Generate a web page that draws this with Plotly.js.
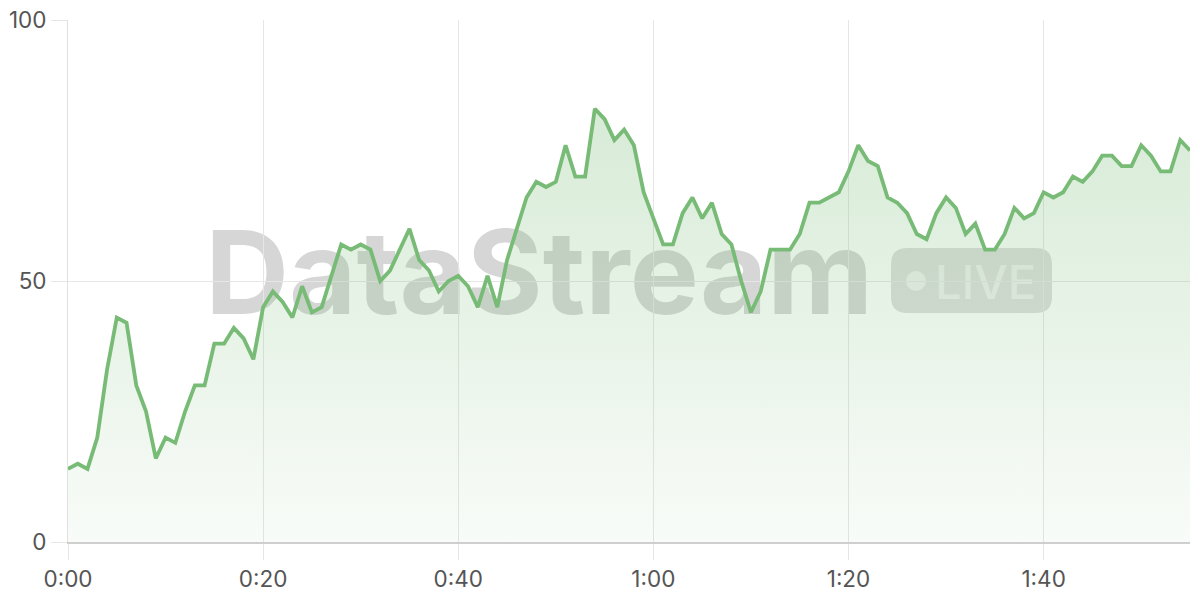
<!DOCTYPE html>
<html>
<head>
<meta charset="utf-8">
<script src="https://cdn.plot.ly/plotly-3.0.1.min.js"></script>
<style>
  html, body { margin: 0; padding: 0; background: #ffffff; }
  #chart { width: 1200px; height: 600px; }
</style>
</head>
<body>
<div id="chart"></div>
<script>
// elapsed seconds
const seconds = [];
for (let s = 0; s <= 115; s++) seconds.push(s);

// stream values (one per second)
const values = [
  14, 15, 14, 20, 33, 43, 42, 30, 25, 16,
  20, 19, 25, 30, 30, 38, 38, 41, 39, 35,
  45, 48, 46, 43, 49, 44, 45, 51, 57, 56,
  57, 56, 50, 52, 56, 60, 54, 52, 48, 50,
  51, 49, 45, 51, 45, 54, 60, 66, 69, 68,
  69, 76, 70, 70, 83, 81, 77, 79, 76, 67,
  62, 57, 57, 63, 66, 62, 65, 59, 57, 50,
  44, 48, 56, 56, 56, 59, 65, 65, 66, 67,
  71, 76, 73, 72, 66, 65, 63, 59, 58, 63,
  66, 64, 59, 61, 56, 56, 59, 64, 62, 63,
  67, 66, 67, 70, 69, 71, 74, 74, 72, 72,
  76, 74, 71, 71, 77, 75
];

const xTickVals = [0, 20, 40, 60, 80, 100];
const xTickText = ['0:00', '0:20', '0:40', '1:00', '1:20', '1:40'];
const yTickVals = [0, 50, 100];

const watermarkText = 'DataStream';
const liveText = 'LIVE';

const trace = {
  x: seconds,
  y: values,
  type: 'scatter',
  mode: 'lines',
  line: { color: '#78bb76', width: 3.8 },
  fill: 'tozeroy',
  fillgradient: {
    type: 'vertical',
    start: 0,
    stop: 85,
    colorscale: [
      [0, 'rgba(120,187,118,0.05)'],
      [1, 'rgba(120,187,118,0.30)']
    ]
  },
  hoverinfo: 'skip'
};

const font = 'Inter, "Open Sans", "DejaVu Sans", sans-serif';

const layout = {
  width: 1200,
  height: 600,
  margin: { l: 68, r: 10, t: 20, b: 58 },
  paper_bgcolor: '#ffffff',
  plot_bgcolor: '#ffffff',
  showlegend: false,
  font: { family: font, color: '#555555', size: 22 },
  xaxis: {
    range: [0, 115],
    tickvals: xTickVals,
    ticktext: xTickText,
    showgrid: true,
    gridcolor: '#e6e6e6',
    gridwidth: 1,
    zeroline: false,
    showline: true,
    linecolor: '#cfcfcf',
    linewidth: 1.5,
    ticks: 'outside',
    ticklen: 16,
    tickcolor: '#e6e6e6',
    tickwidth: 1,
    tickfont: { family: font, size: 22.5, color: '#555555' },
    fixedrange: true
  },
  yaxis: {
    range: [0, 100],
    tickvals: yTickVals,
    showgrid: true,
    gridcolor: '#e6e6e6',
    gridwidth: 1,
    zeroline: false,
    showline: true,
    linecolor: '#e0e0e0',
    linewidth: 1,
    ticks: 'outside',
    ticklen: 16,
    tickcolor: '#e6e6e6',
    tickwidth: 1,
    tickfont: { family: font, size: 22.5, color: '#555555' },
    fixedrange: true
  },
  shapes: [
    {
      type: 'rect', xref: 'paper', yref: 'paper', layer: 'below',
      x0: 0.12, x1: 0.72, y0: 0.385, y1: 0.665,
      line: { width: 0 }, fillcolor: 'rgba(0,0,0,0)',
      label: {
        text: watermarkText,
        textposition: 'middle center',
        font: { family: font, size: 116, weight: 700, color: 'rgba(0,0,0,0.16)' }
      }
    },
    {
      type: 'path', xref: 'paper', yref: 'paper', layer: 'below',
      path: (function () {
        // rounded pill from px 891..1052 horizontally, 248..313 vertically
        const L = 68, W = 1122, T = 20, H = 522;
        const px = p => (p - L) / W;
        const py = p => 1 - (p - T) / H;
        const x0 = 891, x1 = 1052, y0 = 248, y1 = 313, r = 16;
        return 'M ' + px(x0 + r) + ',' + py(y0) +
          ' L ' + px(x1 - r) + ',' + py(y0) +
          ' Q ' + px(x1) + ',' + py(y0) + ' ' + px(x1) + ',' + py(y0 + r) +
          ' L ' + px(x1) + ',' + py(y1 - r) +
          ' Q ' + px(x1) + ',' + py(y1) + ' ' + px(x1 - r) + ',' + py(y1) +
          ' L ' + px(x0 + r) + ',' + py(y1) +
          ' Q ' + px(x0) + ',' + py(y1) + ' ' + px(x0) + ',' + py(y1 - r) +
          ' L ' + px(x0) + ',' + py(y0 + r) +
          ' Q ' + px(x0) + ',' + py(y0) + ' ' + px(x0 + r) + ',' + py(y0) + ' Z';
      })(),
      line: { width: 0 }, fillcolor: 'rgba(0,0,0,0.13)'
    },
    {
      type: 'circle', xref: 'paper', yref: 'paper', layer: 'below',
      x0: (906 - 68) / 1122, x1: (926 - 68) / 1122,
      y0: 1 - (291 - 20) / 522, y1: 1 - (271 - 20) / 522,
      line: { width: 0 }, fillcolor: 'rgba(255,255,255,0.55)'
    },
    {
      type: 'rect', xref: 'paper', yref: 'paper', layer: 'below',
      x0: (935 - 68) / 1122, x1: (1036 - 68) / 1122,
      y0: 1 - (313 - 20) / 522, y1: 1 - (248 - 20) / 522,
      line: { width: 0 }, fillcolor: 'rgba(0,0,0,0)',
      label: {
        text: liveText,
        textposition: 'middle center',
        font: { family: font, size: 47, weight: 500, color: 'rgba(255,255,255,0.55)' }
      }
    }
  ]
};

Plotly.newPlot('chart', [trace], layout, { displayModeBar: false, staticPlot: true });
</script>
</body>
</html>
